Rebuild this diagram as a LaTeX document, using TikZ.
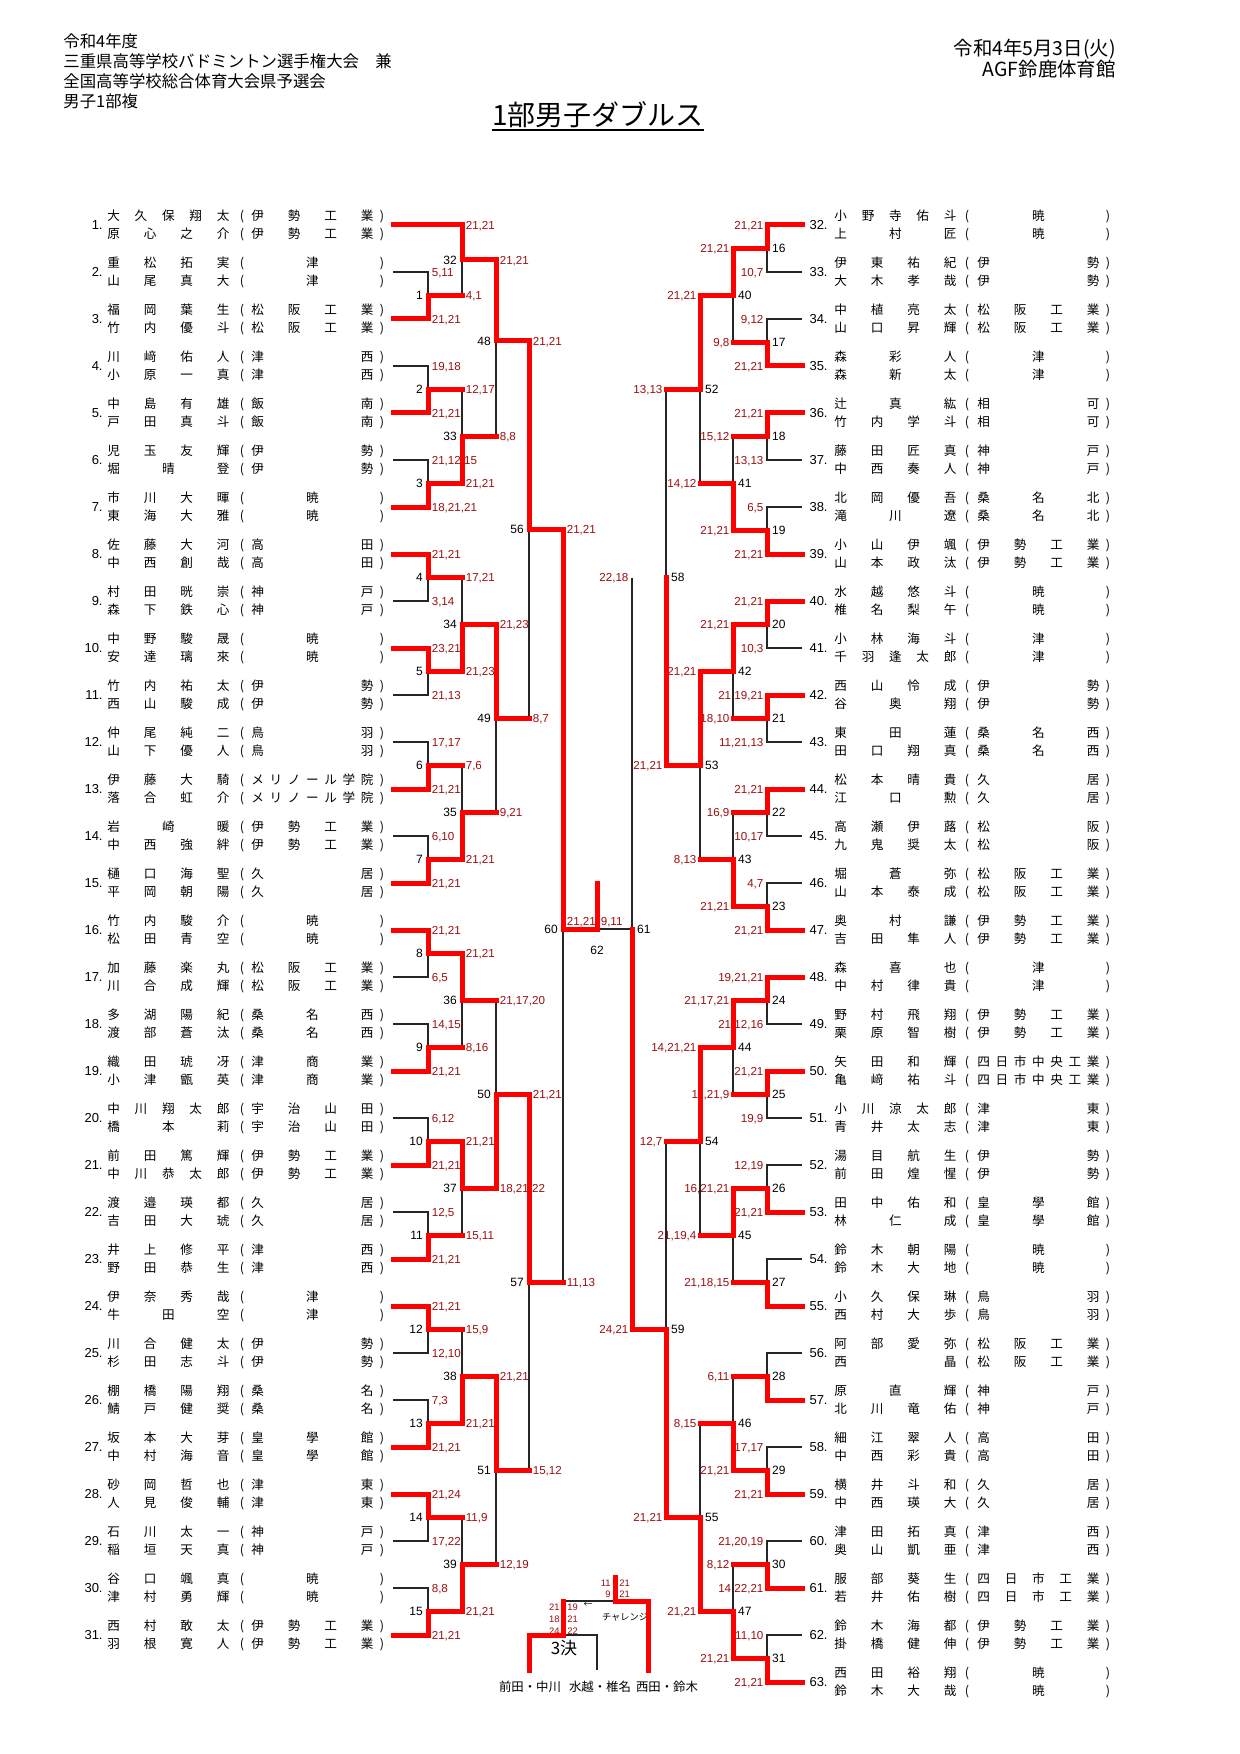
\documentclass[tikz,border=0pt]{standalone}
\usepackage{fontspec}
\setmainfont{Liberation Sans}
\newfontfamily\jpf{Noto Sans CJK JP}
\definecolor{scorered}{RGB}{155,15,15}
\definecolor{brred}{RGB}{255,0,0}
\makeatletter
\def\dist#1{\hfil\def\dist@sep{}\dist@loop#1\relax\hfil}
\def\dist@loop#1{\ifx#1\relax\else\dist@sep#1\def\dist@sep{\hfill}\expandafter\dist@loop\fi}
\makeatother
\tikzset{
  bk/.style={line width=0.65pt, black!85},
  rd/.style={line width=2.5pt, brred, line cap=rect},
  nm/.style={font=\jpf\fontsize{6.3}{7}\selectfont, inner sep=0pt, text height=5.4pt, text depth=0.9pt},
  enum/.style={font=\fontsize{6.5}{7}\selectfont, inner sep=0pt},
  scb/.style={font=\fontsize{5.8}{6}\selectfont, text=scorered, inner sep=0pt, text height=4.2pt, text depth=0pt},
  scl/.style={scb, anchor=west, xshift=1.7pt},
  scr/.style={scb, anchor=east, xshift=-1.6pt},
  scf/.style={scb, anchor=south west, xshift=1.7pt, yshift=1.7pt},
  mnb/.style={font=\fontsize{6}{7}\selectfont, inner sep=0pt, text height=4.3pt, text depth=0pt},
  mnl/.style={mnb, anchor=east, xshift=-2.4pt},
  mnr/.style={mnb, anchor=west, xshift=2.4pt},
  tiny/.style={font=\fontsize{4.7}{5}\selectfont, text=scorered, inner sep=0pt},
  hd/.style={font=\jpf\fontsize{8.2}{10}\selectfont, inner sep=0pt},
  hdr/.style={font=\jpf\fontsize{9.7}{11}\selectfont, inner sep=0pt},
}
\newcommand\lent[5]{%
  \pgfmathsetmacro\ey{225+47*(#1-1)}%
  \coordinate (e#1) at (393,\ey);
  \node[enum, anchor=east] (num#1) at (103,\ey) {#1.};
  \node[nm, anchor=west] (na#1) at (107,\ey-9) {\makebox[61pt]{\dist{#2}}};
  \node[nm] (pa#1) at (242,\ey-9) {(};
  \node[nm, anchor=west] (sa#1) at (251,\ey-9) {\makebox[61pt]{\dist{#3}}};
  \node[nm] (qa#1) at (382,\ey-9) {)};
  \node[nm, anchor=west] (nb#1) at (107,\ey+9) {\makebox[61pt]{\dist{#4}}};
  \node[nm] (pb#1) at (242,\ey+9) {(};
  \node[nm, anchor=west] (sb#1) at (251,\ey+9) {\makebox[61pt]{\dist{#5}}};
  \node[nm] (qb#1) at (382,\ey+9) {)};
}
\newcommand\rent[5]{%
  \pgfmathsetmacro\ey{225+47*(#1-32)}%
  \coordinate (e#1) at (802,\ey);
  \node[enum, anchor=east] (num#1) at (828,\ey) {#1.};
  \node[nm, anchor=west] (na#1) at (834,\ey-9) {\makebox[61pt]{\dist{#2}}};
  \node[nm] (pa#1) at (967,\ey-9) {(};
  \node[nm, anchor=west] (sa#1) at (977,\ey-9) {\makebox[61pt]{\dist{#3}}};
  \node[nm] (qa#1) at (1108,\ey-9) {)};
  \node[nm, anchor=west] (nb#1) at (834,\ey+9) {\makebox[61pt]{\dist{#4}}};
  \node[nm] (pb#1) at (967,\ey+9) {(};
  \node[nm, anchor=west] (sb#1) at (977,\ey+9) {\makebox[61pt]{\dist{#5}}};
  \node[nm] (qb#1) at (1108,\ey+9) {)};
}
\begin{document}
\begin{tikzpicture}[x=0.5pt,y=-0.5pt]
\fill[white] (0,0) rectangle (1240,1754);
\useasboundingbox (0,0) rectangle (1240,1754);

% header
\node[hd, anchor=west] (h1) at (63,41) {令和4年度};
\node[hd, anchor=west] (h2) at (63,61) {三重県高等学校バドミントン選手権大会　兼};
\node[hd, anchor=west] (h3) at (63,81) {全国高等学校総合体育大会県予選会};
\node[hd, anchor=west] (h4) at (63,101) {男子1部複};
\node[hdr, anchor=east] (d1) at (1116,49) {令和4年5月3日(火)};
\node[hdr, anchor=east] (d2) at (1116,69) {AGF鈴鹿体育館};
\node[inner sep=0pt, font=\jpf\fontsize{14}{16}\selectfont] (title) at (598,115) {1部男子ダブルス};
\draw[line width=0.75pt] ([yshift=-0.6pt]title.south west) -- ([yshift=-0.6pt]title.south east);

% left entries
\lent{1}{大久保翔太}{伊勢工業}{原心之介}{伊勢工業}
\lent{2}{重松拓実}{津}{山尾真大}{津}
\lent{3}{福岡葉生}{松阪工業}{竹内優斗}{松阪工業}
\lent{4}{川﨑佑人}{津西}{小原一真}{津西}
\lent{5}{中島有雄}{飯南}{戸田真斗}{飯南}
\lent{6}{児玉友輝}{伊勢}{堀晴登}{伊勢}
\lent{7}{市川大暉}{暁}{東海大雅}{暁}
\lent{8}{佐藤大河}{高田}{中西創哉}{高田}
\lent{9}{村田晄崇}{神戸}{森下鉄心}{神戸}
\lent{10}{中野駿晟}{暁}{安達璃來}{暁}
\lent{11}{竹内祐太}{伊勢}{西山駿成}{伊勢}
\lent{12}{仲尾純二}{鳥羽}{山下優人}{鳥羽}
\lent{13}{伊藤大騎}{メリノール学院}{落合虹介}{メリノール学院}
\lent{14}{岩崎暖}{伊勢工業}{中西強絆}{伊勢工業}
\lent{15}{樋口海聖}{久居}{平岡朝陽}{久居}
\lent{16}{竹内駿介}{暁}{松田青空}{暁}
\lent{17}{加藤楽丸}{松阪工業}{川合成輝}{松阪工業}
\lent{18}{多湖陽紀}{桑名西}{渡部蒼汰}{桑名西}
\lent{19}{織田琥冴}{津商業}{小津甑英}{津商業}
\lent{20}{中川翔太郎}{宇治山田}{橋本莉}{宇治山田}
\lent{21}{前田篤輝}{伊勢工業}{中川恭太郎}{伊勢工業}
\lent{22}{渡邉瑛都}{久居}{吉田大琥}{久居}
\lent{23}{井上修平}{津西}{野田恭生}{津西}
\lent{24}{伊奈秀哉}{津}{牛田空}{津}
\lent{25}{川合健太}{伊勢}{杉田志斗}{伊勢}
\lent{26}{棚橋陽翔}{桑名}{鯖戸健奨}{桑名}
\lent{27}{坂本大芽}{皇學館}{中村海音}{皇學館}
\lent{28}{砂岡哲也}{津東}{人見俊輔}{津東}
\lent{29}{石川太一}{神戸}{稲垣天真}{神戸}
\lent{30}{谷口颯真}{暁}{津村勇輝}{暁}
\lent{31}{西村敢太}{伊勢工業}{羽根寛人}{伊勢工業}

% right entries
\rent{32}{小野寺佑斗}{暁}{上村匠}{暁}
\rent{33}{伊東祐紀}{伊勢}{大木孝哉}{伊勢}
\rent{34}{中植亮太}{松阪工業}{山口昇輝}{松阪工業}
\rent{35}{森彩人}{津}{森新太}{津}
\rent{36}{辻真紘}{相可}{竹内学斗}{相可}
\rent{37}{藤田匠真}{神戸}{中西奏人}{神戸}
\rent{38}{北岡優吾}{桑名北}{滝川遼}{桑名北}
\rent{39}{小山伊颯}{伊勢工業}{山本政汰}{伊勢工業}
\rent{40}{水越悠斗}{暁}{椎名梨午}{暁}
\rent{41}{小林海斗}{津}{千羽逢太郎}{津}
\rent{42}{西山怜成}{伊勢}{谷奥翔}{伊勢}
\rent{43}{東田蓮}{桑名西}{田口翔真}{桑名西}
\rent{44}{松本晴貴}{久居}{江口勲}{久居}
\rent{45}{高瀬伊蕗}{松阪}{九鬼奨太}{松阪}
\rent{46}{堀蒼弥}{松阪工業}{山本泰成}{松阪工業}
\rent{47}{奥村謙}{伊勢工業}{吉田隼人}{伊勢工業}
\rent{48}{森喜也}{津}{中村律貴}{津}
\rent{49}{野村飛翔}{伊勢工業}{栗原智樹}{伊勢工業}
\rent{50}{矢田和輝}{四日市中央工業}{亀﨑祐斗}{四日市中央工業}
\rent{51}{小川涼太郎}{津東}{青井太志}{津東}
\rent{52}{湯目航生}{伊勢}{前田煌惺}{伊勢}
\rent{53}{田中佑和}{皇學館}{林仁成}{皇學館}
\rent{54}{鈴木朝陽}{暁}{鈴木大地}{暁}
\rent{55}{小久保琳}{鳥羽}{西村大歩}{鳥羽}
\rent{56}{阿部愛弥}{松阪工業}{西晶}{松阪工業}
\rent{57}{原直輝}{神戸}{北川竜佑}{神戸}
\rent{58}{細江翠人}{高田}{中西彩貴}{高田}
\rent{59}{横井斗和}{久居}{中西瑛大}{久居}
\rent{60}{津田拓真}{津西}{奥山凱亜}{津西}
\rent{61}{服部葵生}{四日市工業}{若井佑樹}{四日市工業}
\rent{62}{鈴木海都}{伊勢工業}{掛橋健伸}{伊勢工業}
\rent{63}{西田裕翔}{暁}{鈴木大哉}{暁}

% match points, left
\foreach \n/\y in {1/295.5,2/389.5,3/483.5,4/577.5,5/671.5,6/765.5,7/859.5,8/953.5,9/1047.5,10/1141.5,11/1235.5,12/1329.5,13/1423.5,14/1517.5,15/1611.5}{\coordinate (m\n) at (428,\y);}
\foreach \n/\y in {32/260,33/436.5,34/624.5,35/812.5,36/1000.5,37/1188.5,38/1376.5,39/1564.5}{\coordinate (m\n) at (462,\y);}
\foreach \n/\y in {48/341,49/718.5,50/1094.5,51/1470.5}{\coordinate (m\n) at (496,\y);}
\coordinate (m56) at (529,529);
\coordinate (m57) at (529,1282.5);
\coordinate (m60) at (563,929);
\coordinate (f62) at (597,929);
\coordinate (champ) at (597,883);
% match points, right
\foreach \n/\y in {16/248.5,17/342.5,18/436.5,19/530.5,20/624.5,21/718.5,22/812.5,23/906.5,24/1000.5,25/1094.5,26/1188.5,27/1282.5,28/1376.5,29/1470.5,30/1564.5,31/1658.5}{\coordinate (m\n) at (767,\y);}
\foreach \n/\y in {40/295.5,41/483.5,42/671.5,43/859.5,44/1047.5,45/1235.5,46/1423.5,47/1611.5}{\coordinate (m\n) at (733,\y);}
\foreach \n/\y in {52/389.5,53/765.5,54/1141.5,55/1517.5}{\coordinate (m\n) at (700,\y);}
\coordinate (m58) at (666,577.5);
\coordinate (m59) at (666,1329.5);
\coordinate (m61) at (632,929);

% match numbers
\foreach \n in {1,2,3,4,5,6,7,8,9,10,11,12,13,14,15,32,33,34,35,36,37,38,39,48,49,50,51,56,57,60}{\node[mnl] (n\n) at (m\n) {\n};}
\foreach \n in {16,17,18,19,20,21,22,23,24,25,26,27,28,29,30,31,40,41,42,43,44,45,46,47,52,53,54,55,58,59,61}{\node[mnr] (n\n) at (m\n) {\n};}
\node[mnb] (n62) at (597,950) {62};

% scores, left
\foreach \c/\p/\s in {e2/m1/{5,11}, e3/m1/{21,21}, e4/m2/{19,18}, e5/m2/{21,21}, e6/m3/{21,12,15}, e7/m3/{18,21,21}, e8/m4/{21,21}, e9/m4/{3,14}, e10/m5/{23,21}, e11/m5/{21,13}, e12/m6/{17,17}, e13/m6/{21,21}, e14/m7/{6,10}, e15/m7/{21,21}, e16/m8/{21,21}, e17/m8/{6,5}, e18/m9/{14,15}, e19/m9/{21,21}, e20/m10/{6,12}, e21/m10/{21,21}, e22/m11/{12,5}, e23/m11/{21,21}, e24/m12/{21,21}, e25/m12/{12,10}, e26/m13/{7,3}, e27/m13/{21,21}, e28/m14/{21,24}, e29/m14/{17,22}, e30/m15/{8,8}, e31/m15/{21,21},
 e1/m32/{21,21}, m1/m32/{4,1}, m2/m33/{12,17}, m3/m33/{21,21}, m4/m34/{17,21}, m5/m34/{21,23}, m6/m35/{7,6}, m7/m35/{21,21}, m8/m36/{21,21}, m9/m36/{8,16}, m10/m37/{21,21}, m11/m37/{15,11}, m12/m38/{15,9}, m13/m38/{21,21}, m14/m39/{11,9}, m15/m39/{21,21},
 m32/m48/{21,21}, m33/m48/{8,8}, m34/m49/{21,23}, m35/m49/{9,21}, m36/m50/{21,17,20}, m37/m50/{18,21,22}, m38/m51/{21,21}, m39/m51/{12,19},
 m48/m56/{21,21}, m49/m56/{8,7}, m50/m57/{21,21}, m51/m57/{15,12}, m56/m60/{21,21}, m57/m60/{11,13}}
 {\node[scl] (s\c) at (\c -| \p) {\s};}
% scores, right
\foreach \c/\p/\s in {e32/m16/{21,21}, e33/m16/{10,7}, e34/m17/{9,12}, e35/m17/{21,21}, e36/m18/{21,21}, e37/m18/{13,13}, e38/m19/{6,5}, e39/m19/{21,21}, e40/m20/{21,21}, e41/m20/{10,3}, e42/m21/{21,19,21}, e43/m21/{11,21,13}, e44/m22/{21,21}, e45/m22/{10,17}, e46/m23/{4,7}, e47/m23/{21,21}, e48/m24/{19,21,21}, e49/m24/{21,12,16}, e50/m25/{21,21}, e51/m25/{19,9}, e52/m26/{12,19}, e53/m26/{21,21}, e58/m29/{17,17}, e59/m29/{21,21}, e60/m30/{21,20,19}, e61/m30/{14,22,21}, e62/m31/{11,10}, e63/m31/{21,21},
 m16/m40/{21,21}, m17/m40/{9,8}, m18/m41/{15,12}, m19/m41/{21,21}, m20/m42/{21,21}, m21/m42/{18,10}, m22/m43/{16,9}, m23/m43/{21,21}, m24/m44/{21,17,21}, m25/m44/{11,21,9}, m26/m45/{16,21,21}, m27/m45/{21,18,15}, m28/m46/{6,11}, m29/m46/{21,21}, m30/m47/{8,12}, m31/m47/{21,21},
 m40/m52/{21,21}, m41/m52/{14,12}, m42/m53/{21,21}, m43/m53/{8,13}, m44/m54/{14,21,21}, m45/m54/{21,19,4}, m46/m55/{8,15}, m47/m55/{21,21},
 m52/m58/{13,13}, m53/m58/{21,21}, m54/m59/{12,7}, m55/m59/{21,21}, m58/m61/{22,18}, m59/m61/{24,21}}
 {\node[scr] (s\c) at (\c -| \p) {\s};}

% black (losing) lines
\foreach \c/\p in {e2/m1, e4/m2, e6/m3, e9/m4, e11/m5, e12/m6, e14/m7, e17/m8, e18/m9, e20/m10, e22/m11, e25/m12, e26/m13, e29/m14, e30/m15,
 e33/m16, e34/m17, e37/m18, e38/m19, e41/m20, e43/m21, e45/m22, e46/m23, e49/m24, e51/m25, e52/m26, e54/m27, e56/m28, e58/m29, e60/m30, e62/m31}
 {\draw[bk] (\c) -| (\p);}
\foreach \c/\p in {m1/m32, m2/m33, m4/m34, m6/m35, m9/m36, m11/m37, m12/m38, m14/m39, m33/m48, m35/m49, m36/m50, m39/m51, m49/m56, m51/m57, m57/m60,
 m17/m40, m18/m41, m21/m42, m22/m43, m25/m44, m27/m45, m28/m46, m30/m47, m41/m52, m43/m53, m45/m54, m46/m55, m52/m58, m54/m59, m58/m61}
 {\draw[bk] (\c -| \p) -- (\p);}
\draw[bk] (m61) -- (f62);

% red (winning) lines
\foreach \c/\p in {e3/m1, e5/m2, e7/m3, e8/m4, e10/m5, e13/m6, e15/m7, e16/m8, e19/m9, e21/m10, e23/m11, e24/m12, e27/m13, e28/m14, e31/m15, e1/m32,
 m3/m33, m5/m34, m7/m35, m8/m36, m10/m37, m13/m38, m15/m39, m32/m48, m34/m49, m37/m50, m38/m51, m48/m56, m50/m57, m56/m60,
 e32/m16, e35/m17, e36/m18, e39/m19, e40/m20, e42/m21, e44/m22, e47/m23, e48/m24, e50/m25, e53/m26, e55/m27, e57/m28, e59/m29, e61/m30, e63/m31,
 m16/m40, m19/m41, m20/m42, m23/m43, m24/m44, m26/m45, m29/m46, m31/m47, m40/m52, m42/m53, m44/m54, m47/m55, m53/m58, m55/m59, m59/m61}
 {\draw[rd] (\c) -| (\p);}
\foreach \c/\p in {m1/m32, m2/m33, m4/m34, m6/m35, m9/m36, m11/m37, m12/m38, m14/m39, m33/m48, m35/m49, m36/m50, m39/m51, m49/m56, m51/m57, m57/m60,
 m17/m40, m18/m41, m21/m42, m22/m43, m25/m44, m27/m45, m28/m46, m30/m47, m41/m52, m43/m53, m45/m54, m46/m55, m52/m58, m54/m59}
 {\draw[rd] (\c) -- (\c -| \p);}
\draw[rd] (m60) -- (f62) -- (champ);
\node[scf] (sf60) at (m60) {21,21};
\node[scf] (sf61) at (f62) {9,11};

% third place and challenge
\coordinate (ql) at (529,1670);
\coordinate (qm) at (597,1670);
\coordinate (qr) at (648,1670);
\coordinate (t3) at (563,1635);
\coordinate (ch) at (615,1601);
\coordinate (chtop) at (615,1577);
\node[tiny, anchor=east] (ta1) at (560,1607) {21};
\node[tiny, anchor=east] (ta2) at (560,1619) {18};
\node[tiny, anchor=east] (ta3) at (560,1631) {24};
\node[tiny, anchor=west] (tb1) at (567,1607) {19};
\node[tiny, anchor=west] (tb2) at (567,1619) {21};
\node[tiny, anchor=west] (tb3) at (567,1631) {22};
\node[tiny, anchor=east] (ca1) at (611,1583) {11};
\node[tiny, anchor=east] (ca2) at (611,1594) {9};
\node[tiny, anchor=west] (cb1) at (619,1583) {21};
\node[tiny, anchor=west] (cb2) at (619,1594) {21};
\node[inner sep=0pt, font=\jpf\fontsize{4.5}{5}\selectfont] (arr) at (588,1605) {←};
\node[inner sep=0pt, font=\jpf\fontsize{4.6}{5}\selectfont] (chl) at (625,1617) {チャレンジ};
\node[inner sep=0pt, font=\jpf\fontsize{8.5}{9}\selectfont] (t3l) at (564,1648) {3決};
\node[inner sep=0pt, font=\jpf\fontsize{6.2}{7}\selectfont] (pl) at (530,1687) {前田・中川};
\node[inner sep=0pt, font=\jpf\fontsize{6.2}{7}\selectfont] (pm) at (600,1687) {水越・椎名};
\node[inner sep=0pt, font=\jpf\fontsize{6.2}{7}\selectfont] (pr) at (667,1687) {西田・鈴木};
\draw[bk] (qm) |- (t3);
\draw[bk] (t3 |- ch) -- (ch);
\draw[rd] (ql) |- (t3) -- (t3 |- ch);
\draw[rd] (qr) |- (ch) -- (chtop);
\end{tikzpicture}
\end{document}
